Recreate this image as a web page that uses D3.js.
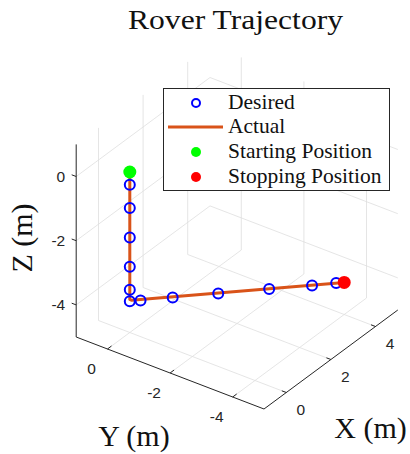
<!DOCTYPE html>
<html>
<head>
<meta charset="utf-8">
<script src="https://cdn.jsdelivr.net/npm/d3@7.9.0/dist/d3.min.js"></script>
<style>
  html, body { margin: 0; padding: 0; background: #fff; }
  svg { display: block; }
</style>
</head>
<body>
<svg id="chart"></svg>
<script>
// axis limits and ticks
const xLim = [-1, 5];
const yLim = [-5, 1];
const zLim = [-5, 1];
const xTicks = [0, 2, 4];
const yTicks = [0, -2, -4];
const zTicks = [0, -2, -4];

// desired waypoints
const desiredX = [0, 0, 0, 0, 0, 0, 0.2, 0.8, 1.65, 2.6, 3.4, 3.85];
const desiredY = [0, 0, 0, 0, 0, 0, -0.2, -0.8, -1.65, -2.6, -3.4, -3.85];
const desiredZ = [-0.4, -1.12, -2.04, -2.95, -3.67, -4.03, -4.03, -4.02, -4.02, -4.01, -4.01, -4.0];

// actual trajectory
const actualX = [0, 0, 0.03, 4];
const actualY = [0, 0, -0.03, -4];
const actualZ = [0, -3.97, -4.0, -4.0];

const startPos = [0, 0, 0];
const stopPos = [4, -4, -4];

const legendLabels = ["Desired", "Actual", "Starting Position", "Stopping Position"];

const W = 410, H = 454;
const svg = d3.select("#chart").attr("width", W).attr("height", H);

// projection of the 3D box
const xS = d3.scaleLinear().domain(xLim).range([0, 1]);
const yS = d3.scaleLinear().domain(yLim).range([0, 1]);
const zS = d3.scaleLinear().domain(zLim).range([0, 1]);
const base = [264, 409];           // corner x=-1, y=-5, z=-5
const VX = [133.8, -99];
const VY = [-187.8, -72];
const VZ = [0, -192.6];

function proj(x, y, z) {
  const a = xS(x), b = yS(y), c = zS(z);
  return [base[0] + a * VX[0] + b * VY[0] + c * VZ[0],
          base[1] + a * VX[1] + b * VY[1] + c * VZ[1]];
}

const line = d3.line();
const gridColor = "#dedede";
const axisColor = "#262626";

// grid lines on the floor and two back walls
const grid = svg.append("g").attr("stroke", gridColor).attr("stroke-width", 0.8).attr("fill", "none");
const segs = [];
xTicks.forEach(x => {
  segs.push([proj(x, yLim[0], zLim[0]), proj(x, yLim[1], zLim[0])]);
  segs.push([proj(x, yLim[1], zLim[0]), proj(x, yLim[1], zLim[1])]);
});
yTicks.forEach(y => {
  segs.push([proj(xLim[0], y, zLim[0]), proj(xLim[1], y, zLim[0])]);
  segs.push([proj(xLim[1], y, zLim[0]), proj(xLim[1], y, zLim[1])]);
});
zTicks.forEach(z => {
  segs.push([proj(xLim[0], yLim[1], z), proj(xLim[1], yLim[1], z)]);
  segs.push([proj(xLim[1], yLim[0], z), proj(xLim[1], yLim[1], z)]);
});
grid.selectAll("path").data(segs).join("path").attr("d", d => line(d));

// axis lines
const axes = svg.append("g").attr("stroke", axisColor).attr("stroke-width", 1).attr("fill", "none");
axes.append("path").attr("d", line([proj(xLim[0], yLim[1], zLim[0]), proj(xLim[0], yLim[1], zLim[1])]));
axes.append("path").attr("d", line([proj(xLim[0], yLim[1], zLim[0]), proj(xLim[0], yLim[0], zLim[0])]));
axes.append("path").attr("d", line([proj(xLim[0], yLim[0], zLim[0]), proj(xLim[1], yLim[0], zLim[0])]));

// tick marks
zTicks.forEach(z => {
  const p = proj(xLim[0], yLim[1], z);
  axes.append("path").attr("d", line([p, [p[0] - 4.5, p[1] - 1.7]]));
});
yTicks.forEach(y => {
  const p = proj(xLim[0], y, zLim[0]);
  axes.append("path").attr("d", line([p, [p[0] + 4, p[1] - 3]]));
});
xTicks.forEach(x => {
  const p = proj(x, yLim[0], zLim[0]);
  axes.append("path").attr("d", line([p, [p[0] - 4.5, p[1] - 1.7]]));
});

// tick labels
const tickFont = "'Liberation Sans', Arial, sans-serif";
const tl = svg.append("g").attr("font-family", tickFont).attr("font-size", 15.5).attr("fill", axisColor);
zTicks.forEach(z => {
  const p = proj(xLim[0], yLim[1], z);
  tl.append("text").attr("x", p[0] - 11).attr("y", p[1]).attr("dy", "0.35em")
    .attr("text-anchor", "end").text(z);
});
yTicks.forEach(y => {
  const p = proj(xLim[0], y, zLim[0]);
  tl.append("text").attr("x", p[0] - 16).attr("y", p[1] + 20).attr("dy", "0.35em")
    .attr("text-anchor", "middle").text(y);
});
xTicks.forEach(x => {
  const p = proj(x, yLim[0], zLim[0]);
  tl.append("text").attr("x", p[0] + 14.5).attr("y", p[1] + 17).attr("dy", "0.35em")
    .attr("text-anchor", "middle").text(x);
});

// axis labels and title
const serif = "'Liberation Serif', 'Times New Roman', serif";
svg.append("text").attr("x", 134).attr("y", 446).attr("text-anchor", "middle")
  .attr("font-family", serif).attr("font-size", 30).attr("fill", "#111").text("Y (m)");
svg.append("text").attr("x", 370.5).attr("y", 438).attr("text-anchor", "middle")
  .attr("font-family", serif).attr("font-size", 30).attr("fill", "#111").text("X (m)");
svg.append("text").attr("transform", "translate(32,238) rotate(-90)").attr("text-anchor", "middle")
  .attr("font-family", serif).attr("font-size", 30).attr("fill", "#111").text("Z (m)");
svg.append("text").attr("x", 235.5).attr("y", 29).attr("text-anchor", "middle")
  .attr("font-family", serif).attr("font-size", 27).attr("fill", "#111")
  .attr("textLength", 215).attr("lengthAdjust", "spacingAndGlyphs").text("Rover Trajectory");

// actual trajectory
const actualPts = actualX.map((x, i) => proj(x, actualY[i], actualZ[i]));
svg.append("path").attr("d", line(actualPts)).attr("fill", "none")
  .attr("stroke", "#D95319").attr("stroke-width", 3).attr("stroke-linejoin", "round");

// desired waypoints
svg.append("g").selectAll("circle").data(desiredX.map((x, i) => proj(x, desiredY[i], desiredZ[i])))
  .join("circle").attr("cx", d => d[0]).attr("cy", d => d[1]).attr("r", 5)
  .attr("fill", "none").attr("stroke", "#0000ff").attr("stroke-width", 2);

// start / stop
const sp = proj(...startPos);
svg.append("circle").attr("cx", sp[0]).attr("cy", sp[1]).attr("r", 6.5).attr("fill", "#00ff00");
const ep = proj(...stopPos);
svg.append("circle").attr("cx", ep[0]).attr("cy", ep[1]).attr("r", 6.5).attr("fill", "#ff0000");

// legend
const lg = svg.append("g");
lg.append("rect").attr("x", 163.5).attr("y", 88.5).attr("width", 226).attr("height", 102)
  .attr("fill", "#fff").attr("stroke", axisColor).attr("stroke-width", 1);
const rowY = [103, 127, 152, 177];
lg.append("circle").attr("cx", 196).attr("cy", rowY[0]).attr("r", 4).attr("fill", "none")
  .attr("stroke", "#0000ff").attr("stroke-width", 2);
lg.append("path").attr("d", line([[168, rowY[1]], [223, rowY[1]]])).attr("stroke", "#D95319").attr("stroke-width", 3);
lg.append("circle").attr("cx", 196).attr("cy", rowY[2]).attr("r", 5).attr("fill", "#00ff00");
lg.append("circle").attr("cx", 196).attr("cy", rowY[3]).attr("r", 5).attr("fill", "#ff0000");
lg.selectAll("text.lab").data(legendLabels).join("text").attr("class", "lab")
  .attr("x", 228).attr("y", (d, i) => rowY[i] + 6)
  .attr("font-family", serif).attr("font-size", 21.5).attr("fill", "#111").text(d => d);
</script>
</body>
</html>
